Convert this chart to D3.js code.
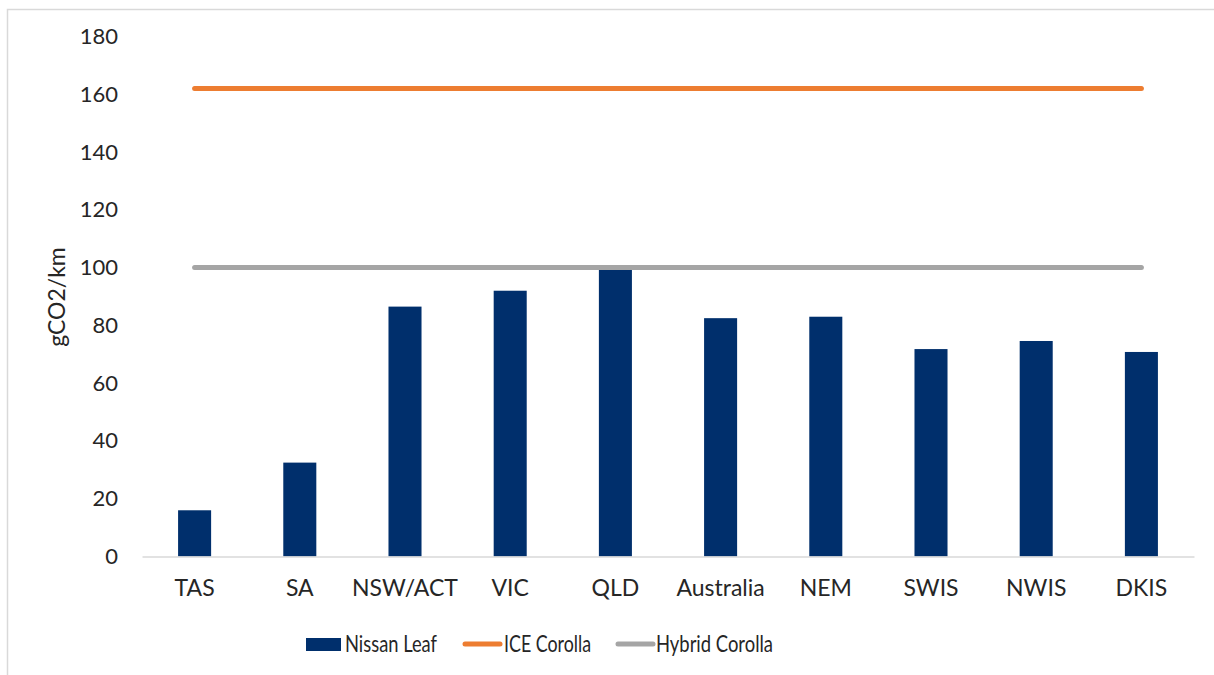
<!DOCTYPE html>
<html><head><meta charset="utf-8">
<script src="https://cdn.jsdelivr.net/npm/d3@7"></script>
<style>body{margin:0;background:#fff;}svg{display:block;}text{font-family:Lato,"Open Sans",sans-serif;fill:#262626;}</style>
</head><body>
<svg id="c" width="1214" height="675"></svg>
<script>
const categories = ["TAS","SA","NSW/ACT","VIC","QLD","Australia","NEM","SWIS","NWIS","DKIS"];
const nissanLeaf = [16, 32.5, 86.5, 92, 99.5, 82.5, 83, 71.8, 74.6, 70.8];
const iceCorolla = [162,162,162,162,162,162,162,162,162,162];
const hybridCorolla = [100,100,100,100,100,100,100,100,100,100];
const yTicks = [0,20,40,60,80,100,120,140,160,180];
const seriesNames = ["Nissan Leaf","ICE Corolla","Hybrid Corolla"];
const colors = {bar:"#002F6C", ice:"#ED7D31", hybrid:"#A5A5A5"};

(function(){
const svg = d3.select("#c");
svg.append("rect").attr("x",7.5).attr("y",9.5).attr("width",1220).attr("height",680)
  .attr("fill","none").attr("stroke","#d9d9d9").attr("stroke-width",1.5);

const pl=142, pr=1194, pt=36.5, pb=556.5;
const x = d3.scaleBand().domain(categories).range([pl,pr]).paddingInner(0.686).paddingOuter(0.343);
const y = d3.scaleLinear().domain([0,180]).range([pb,pt]);

// y axis labels
const ya = svg.append("g").attr("transform",`translate(${118},0)`)
  .call(d3.axisLeft(y).tickValues(yTicks).tickSize(0).tickPadding(0));
ya.select(".domain").remove();
ya.selectAll("text").style("font-size","22px").style("font-family","Lato").attr("fill","#262626");

// bars
svg.append("g").selectAll("rect").data(categories).join("rect")
  .attr("x",d=>x(d)).attr("width",x.bandwidth())
  .attr("y",(d,i)=>y(nissanLeaf[i])).attr("height",(d,i)=>y(0)-y(nissanLeaf[i]))
  .attr("fill",colors.bar);

// x axis
const xa = svg.append("g").attr("transform",`translate(0,${pb})`)
  .call(d3.axisBottom(x).tickSize(0).tickPadding(23));
xa.select(".domain").attr("stroke","#d9d9d9").attr("stroke-width",1.5);
xa.selectAll("text").style("font-size","23px").style("font-family","Lato").attr("fill","#262626");

// lines
const line = d3.line().x((d,i)=>x(categories[i])+x.bandwidth()/2).y(d=>y(d));
svg.append("path").datum(hybridCorolla).attr("d",line).attr("fill","none")
  .attr("stroke",colors.hybrid).attr("stroke-width",5).attr("stroke-linecap","round");
svg.append("path").datum(iceCorolla).attr("d",line).attr("fill","none")
  .attr("stroke",colors.ice).attr("stroke-width",5).attr("stroke-linecap","round");

// y title
svg.append("text").attr("transform","translate(65,297) rotate(-90)")
  .attr("text-anchor","middle").style("font-size","23px").text("gCO2/km");

// legend
const lg = svg.append("g");
lg.append("rect").attr("x",306).attr("y",638).attr("width",35).attr("height",13).attr("fill",colors.bar);
lg.append("text").attr("x",345).attr("y",652).style("font-size","23px")
  .attr("textLength",92).attr("lengthAdjust","spacingAndGlyphs").text(seriesNames[0]);
lg.append("line").attr("x1",465).attr("x2",500).attr("y1",644).attr("y2",644)
  .attr("stroke",colors.ice).attr("stroke-width",5).attr("stroke-linecap","round");
lg.append("text").attr("x",504).attr("y",652).style("font-size","23px")
  .attr("textLength",87).attr("lengthAdjust","spacingAndGlyphs").text(seriesNames[1]);
lg.append("line").attr("x1",618).attr("x2",653).attr("y1",644).attr("y2",644)
  .attr("stroke",colors.hybrid).attr("stroke-width",5).attr("stroke-linecap","round");
lg.append("text").attr("x",656).attr("y",652).style("font-size","23px")
  .attr("textLength",117).attr("lengthAdjust","spacingAndGlyphs").text(seriesNames[2]);
})();
</script>
</body></html>
